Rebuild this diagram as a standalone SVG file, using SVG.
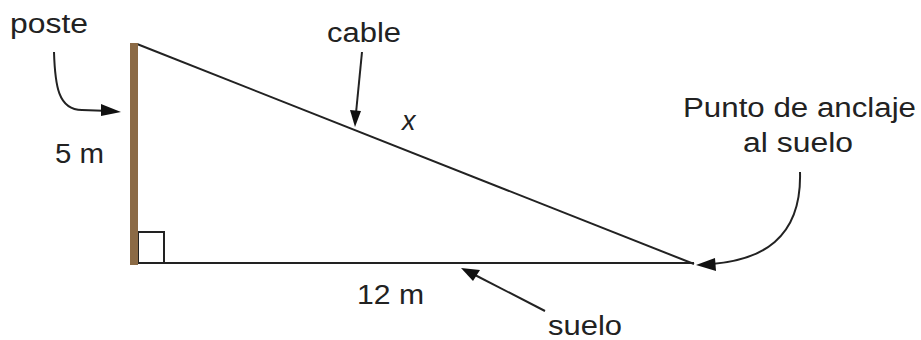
<svg xmlns="http://www.w3.org/2000/svg" width="921" height="340" viewBox="0 0 921 340">
<defs>
<style>
.t{font-family:"Liberation Sans",Arial,sans-serif;font-size:27px;fill:#222}
.ln{stroke:#222;stroke-width:2;fill:none}
.hd{fill:#111}
</style>
</defs>
<rect width="921" height="340" fill="#fff"/>
<g id="triangle">
<line class="ln" x1="137" y1="44" x2="694" y2="264"/>
<line class="ln" x1="137" y1="263" x2="694" y2="263"/>
<rect x="138" y="232" width="26" height="31" fill="none" stroke="#222" stroke-width="2"/>
</g>
<g id="poste-pole">
<rect x="130" y="43" width="8" height="222" fill="#8b6a45"/>
</g>
<g id="connectors">
<path class="ln" d="M54,52 C55,85 58,110 82,110 L110,111"/>
<path class="hd" d="M101,104 L121,112 L101,116 Z"/>
<path class="ln" d="M362,52 L356,113"/>
<path class="hd" d="M350,110 L355,127 L361,111 Z"/>
<path class="ln" d="M800,172 C802,240 760,260 712,264"/>
<path class="hd" d="M715,258 L696,265 L716,271 Z"/>
<path class="ln" d="M545,311 L475,275"/>
<path class="hd" d="M461,268 L480,270 L473,281 Z"/>
</g>
<g id="labels">
<text class="t" x="10" y="33" textLength="78" lengthAdjust="spacingAndGlyphs">poste</text>
<text class="t" x="327" y="42" textLength="74" lengthAdjust="spacingAndGlyphs">cable</text>
<text class="t" x="402" y="130" style="font-style:italic">x</text>
<text class="t" x="55" y="163" textLength="49" lengthAdjust="spacingAndGlyphs">5 m</text>
<text class="t" x="357" y="304" textLength="67" lengthAdjust="spacingAndGlyphs">12 m</text>
<text class="t" x="548" y="335" textLength="74" lengthAdjust="spacingAndGlyphs">suelo</text>
<text class="t" x="683" y="117" textLength="233" lengthAdjust="spacingAndGlyphs">Punto de anclaje</text>
<text class="t" x="743" y="152" textLength="110" lengthAdjust="spacingAndGlyphs">al suelo</text>
</g>
</svg>
